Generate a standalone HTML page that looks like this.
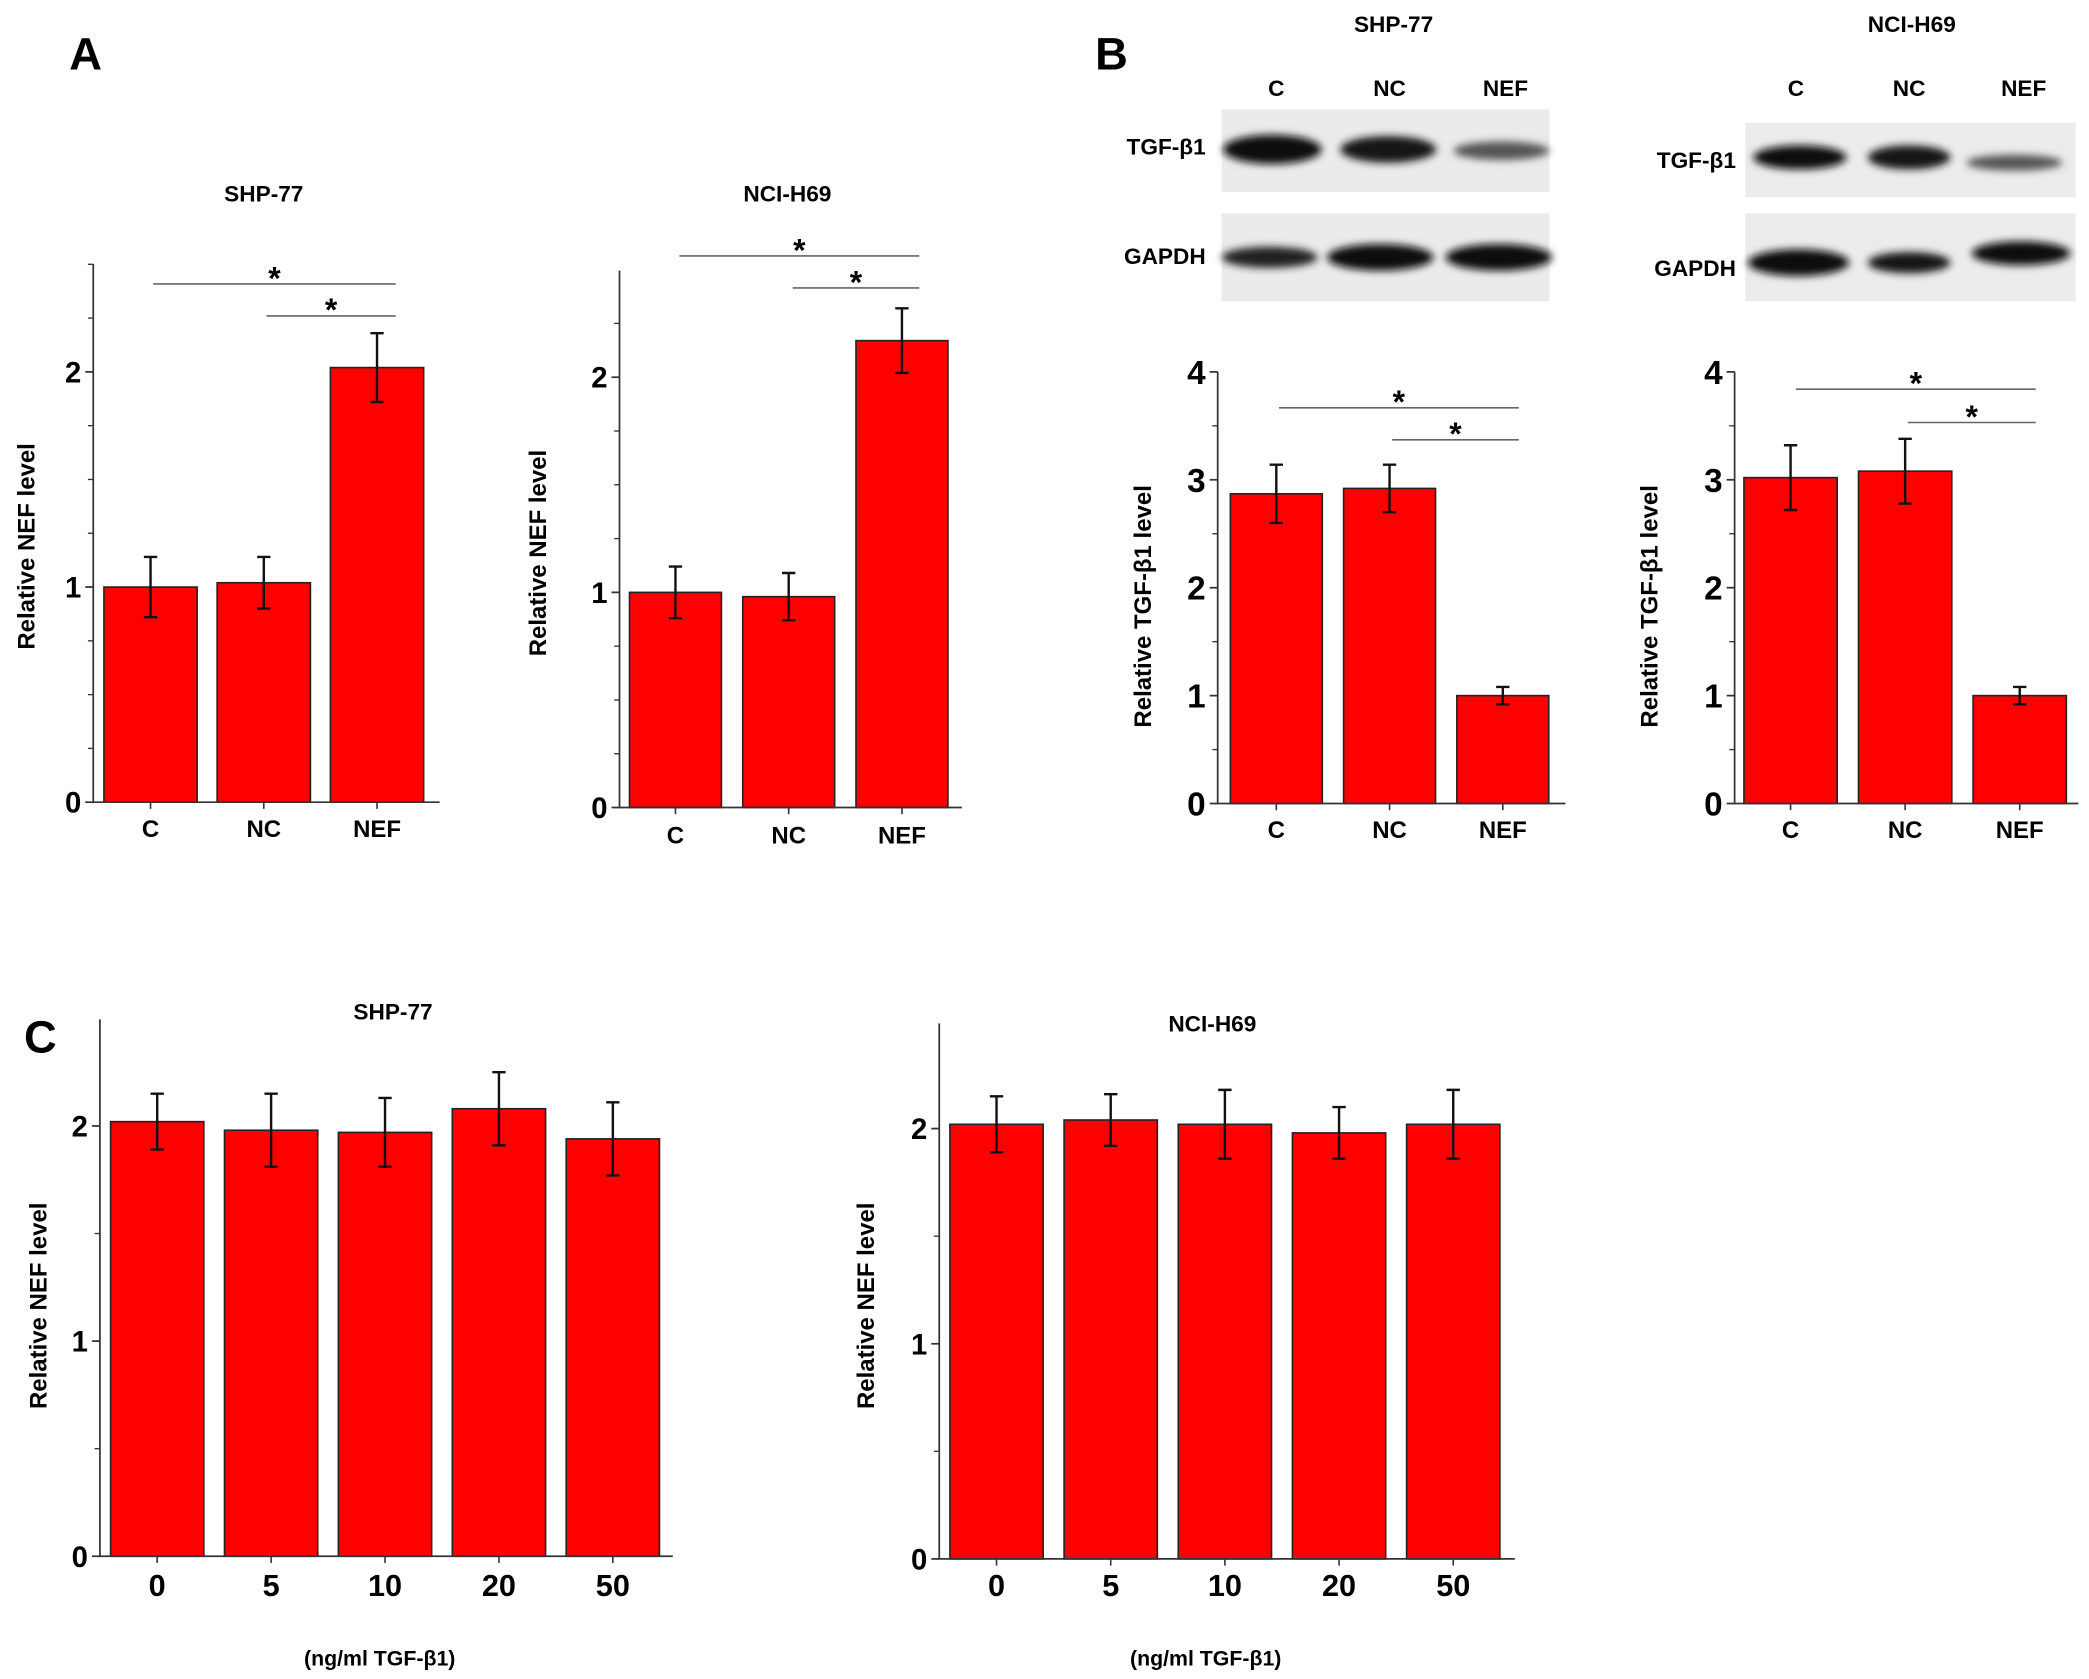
<!DOCTYPE html>
<html><head><meta charset="utf-8"><style>
html,body{margin:0;padding:0;background:#fff;}
svg{display:block;font-family:"Liberation Sans",Arial,sans-serif;font-weight:bold;}
</style></head><body>
<svg id="fig" width="2089" height="1679" viewBox="0 0 1568 1260" xmlns="http://www.w3.org/2000/svg">
<defs><filter id="blur" x="-20%" y="-50%" width="140%" height="200%"><feGaussianBlur stdDeviation="3"/></filter></defs>
<g id="static">
<text x="52" y="52" font-size="34">A</text>
<text x="822" y="52" font-size="34">B</text>
<text x="18" y="790" font-size="34">C</text>
<g>
<text x="1046" y="24" font-size="17" text-anchor="middle">SHP-77</text>
<text x="958" y="72" font-size="17" text-anchor="middle">C</text>
<text x="1043" y="72" font-size="17" text-anchor="middle">NC</text>
<text x="1130" y="72" font-size="17" text-anchor="middle">NEF</text>
<text x="905" y="116" font-size="17" text-anchor="end">TGF-β1</text>
<text x="905" y="198" font-size="17" text-anchor="end">GAPDH</text>
<rect x="917" y="82" width="246" height="62" fill="#ebebeb"/>
<rect x="917" y="160" width="246" height="66" fill="#ebebeb"/>
<g filter="url(#blur)">
<ellipse cx="955" cy="112" rx="37" ry="11" fill="#111"/>
<ellipse cx="1042" cy="112" rx="36" ry="10" fill="#151515"/>
<ellipse cx="1127" cy="113" rx="36" ry="7" fill="#555"/>
<ellipse cx="953" cy="193" rx="36" ry="8" fill="#222"/>
<ellipse cx="1036" cy="193" rx="40" ry="10" fill="#111"/>
<ellipse cx="1125" cy="193" rx="40" ry="10" fill="#111"/>
</g>
</g>
<g>
<text x="1435" y="24" font-size="17" text-anchor="middle">NCI-H69</text>
<text x="1348" y="72" font-size="17" text-anchor="middle">C</text>
<text x="1433" y="72" font-size="17" text-anchor="middle">NC</text>
<text x="1519" y="72" font-size="17" text-anchor="middle">NEF</text>
<text x="1303" y="126" font-size="17" text-anchor="end">TGF-β1</text>
<text x="1303" y="207" font-size="17" text-anchor="end">GAPDH</text>
<rect x="1310" y="92" width="248" height="56" fill="#ececec"/>
<rect x="1310" y="160" width="248" height="66" fill="#ececec"/>
<g filter="url(#blur)">
<ellipse cx="1351" cy="118" rx="35" ry="9" fill="#111"/>
<ellipse cx="1433" cy="118" rx="31" ry="9" fill="#181818"/>
<ellipse cx="1512" cy="122" rx="36" ry="6" fill="#555"/>
<ellipse cx="1350" cy="197" rx="38" ry="10" fill="#111"/>
<ellipse cx="1433" cy="197" rx="31" ry="8" fill="#181818"/>
<ellipse cx="1517" cy="190" rx="37" ry="9" fill="#111"/>
</g>
</g>
</g>
<g id="charts"></g>
</svg>
<script>
// Panel A, SHP-77
const aShpCats = ["C","NC","NEF"];
const aShpVals = [1.0, 1.02, 2.02];
const aShpErr = [0.14, 0.12, 0.16];
const aShpTicks = ["0","1","2"];
// Panel A, NCI-H69
const aNciCats = ["C","NC","NEF"];
const aNciVals = [1.0, 0.98, 2.17];
const aNciErr = [0.12, 0.11, 0.15];
const aNciTicks = ["0","1","2"];
// Panel B, SHP-77
const bShpCats = ["C","NC","NEF"];
const bShpVals = [2.87, 2.92, 1.0];
const bShpErr = [0.27, 0.22, 0.08];
const bShpTicks = ["0","1","2","3","4"];
// Panel B, NCI-H69
const bNciCats = ["C","NC","NEF"];
const bNciVals = [3.02, 3.08, 1.0];
const bNciErr = [0.3, 0.3, 0.08];
const bNciTicks = ["0","1","2","3","4"];
// Panel C
const cCats = ["0","5","10","20","50"];
const cShpVals = [2.02, 1.98, 1.97, 2.08, 1.94];
const cShpErr = [0.13, 0.17, 0.16, 0.17, 0.17];
const cNciVals = [2.02, 2.04, 2.02, 1.98, 2.02];
const cNciErr = [0.13, 0.12, 0.16, 0.12, 0.16];
const cTicks = ["0","1","2"];

const NS="http://www.w3.org/2000/svg";
const root=document.getElementById('charts');
function mk(tag,attrs,parent,text){const e=document.createElementNS(NS,tag);for(const k in attrs)e.setAttribute(k,attrs[k]);if(text!==undefined)e.textContent=text;parent.appendChild(e);return e;}

function chart(cfg,cats,vals,errs,ticks){
  const g=mk('g',{},root);
  
  
  const y=v=>cfg.y0-v*cfg.ppu;
  const step=cfg.step, bw=cfg.bw;
  const xc=i=>cfg.firstC+i*step;
  cats.forEach((c,i)=>{
    const b=mk('rect',{x:xc(i)-bw/2,y:y(vals[i]),width:bw,height:cfg.y0-y(vals[i]),fill:'#ff0000',stroke:'#222','stroke-width':1.2},g);
    
    
    const e=mk('path',{d:`M${xc(i)},${y(vals[i]+errs[i])}V${y(vals[i]-errs[i])}M${xc(i)-5},${y(vals[i]+errs[i])}h10M${xc(i)-5},${y(vals[i]-errs[i])}h10`,stroke:'#111','stroke-width':1.8,fill:'none'},g);
    
    
    const t=mk('text',{x:xc(i),y:cfg.y0+cfg.xlOff,'font-size':cfg.xfs,'text-anchor':'middle'},g,c);
    
    
  });
  const ax=mk('path',{d:`M${cfg.ax},${cfg.top}V${cfg.y0}H${cfg.axEnd}`,stroke:'#333','stroke-width':1.3,fill:'none'},g);
  
  
  const maxV=(cfg.y0-cfg.top)/cfg.ppu;
  for(let v=0;v<=maxV+0.001;v+=cfg.minor){
    mk('line',{x1:cfg.ax-4,x2:cfg.ax,y1:y(v),y2:y(v),stroke:'#333','stroke-width':1},g);
  }
  ticks.forEach(tl=>{
    const v=+tl;
    mk('line',{x1:cfg.ax-6,x2:cfg.ax,y1:y(v),y2:y(v),stroke:'#333','stroke-width':1.3},g);
    const t=mk('text',{x:cfg.ax-9,y:y(v)+cfg.yfs*0.36,'font-size':cfg.yfs,'text-anchor':'end'},g,tl);
    
    
  });
  cats.forEach((c,i)=>mk('line',{x1:xc(i),x2:xc(i),y1:cfg.y0,y2:cfg.y0+5,stroke:'#333','stroke-width':1.2},g));
  const yl=mk('text',{x:0,y:0,'font-size':18,'text-anchor':'middle',transform:`translate(${cfg.ylx},${cfg.ylc}) rotate(-90)`},g,cfg.ylabel);
  
  
  if(cfg.title){const t=mk('text',{x:cfg.title[0],y:cfg.title[1],'font-size':17,'text-anchor':'middle'},g,cfg.title[2]);
    
    }
  if(cfg.xtitle){const t=mk('text',{x:cfg.xtitle[0],y:cfg.xtitle[1],'font-size':16,'text-anchor':'middle'},g,cfg.xtitle[2]);
    
    }
  (cfg.sig||[]).forEach(s=>{
    mk('line',{x1:s[0],x2:s[1],y1:s[2],y2:s[2],stroke:'#666','stroke-width':1.2},g);
    const t=mk('text',{x:(s[0]+s[1])/2,y:s[2]+4,'font-size':24,'text-anchor':'middle'},g,'*');
    
    
  });
}
chart({name:'chart-a-shp77',y0:602,ppu:161.5,top:198,minor:0.25,ax:70,axEnd:330,firstC:113,step:85,bw:70,xlOff:26,xfs:18,yfs:22,ylx:26,ylc:410,ylabel:'Relative  NEF  level',title:[198,151,'SHP-77'],sig:[[115,297,213],[200,297,237]]},aShpCats,aShpVals,aShpErr,aShpTicks);
chart({name:'chart-a-ncih69',y0:606,ppu:161.5,top:203,minor:0.25,ax:465,axEnd:722,firstC:507,step:85,bw:69,xlOff:27,xfs:18,yfs:22,ylx:410,ylc:415,ylabel:'Relative  NEF  level',title:[591,151,'NCI-H69'],sig:[[510,690,192],[595,690,216]]},aNciCats,aNciVals,aNciErr,aNciTicks);
chart({name:'chart-b-shp77',y0:603,ppu:81,top:279,minor:0.5,ax:914,axEnd:1175,firstC:958,step:85,bw:69,xlOff:26,xfs:18,yfs:25,ylx:864,ylc:455,ylabel:'Relative TGF-β1 level',sig:[[960,1140,306],[1045,1140,330]]},bShpCats,bShpVals,bShpErr,bShpTicks);
chart({name:'chart-b-ncih69',y0:603,ppu:81,top:279,minor:0.5,ax:1302,axEnd:1560,firstC:1344,step:86,bw:70,xlOff:26,xfs:18,yfs:25,ylx:1244,ylc:455,ylabel:'Relative TGF-β1 level',sig:[[1348,1528,292],[1432,1528,317]]},bNciCats,bNciVals,bNciErr,bNciTicks);
chart({name:'chart-c-shp77',y0:1168,ppu:161.5,top:765,minor:0.5,ax:75,axEnd:505,firstC:118,step:85.5,bw:70,xlOff:30,xfs:23,yfs:22,ylx:35,ylc:980,ylabel:'Relative  NEF  level',title:[295,765,'SHP-77'],xtitle:[285,1250,'(ng/ml TGF-β1)']},cCats,cShpVals,cShpErr,cTicks);
chart({name:'chart-c-ncih69',y0:1170,ppu:161.5,top:768,minor:0.5,ax:705,axEnd:1137,firstC:748,step:85.7,bw:70,xlOff:28,xfs:23,yfs:22,ylx:656,ylc:980,ylabel:'Relative  NEF  level',title:[910,774,'NCI-H69'],xtitle:[905,1250,'(ng/ml TGF-β1)']},cCats,cNciVals,cNciErr,cTicks);
</script>
</body></html>
